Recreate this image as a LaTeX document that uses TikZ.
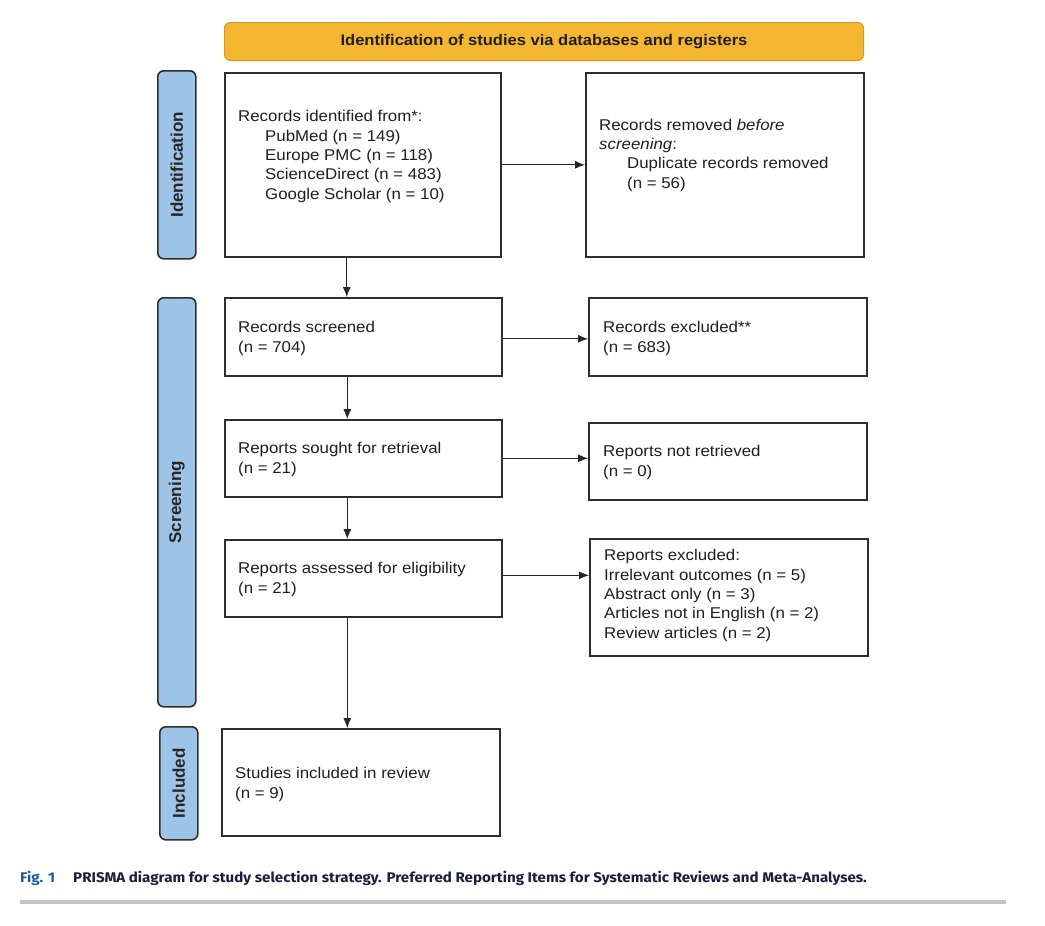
\documentclass[tikz,border=0pt]{standalone}
\usepackage{fontspec}
\setmainfont{Liberation Sans}[FakeStretch=1.08]
\newfontfamily\sidefont{Liberation Sans}
\newfontfamily\capfont{Fira Sans}[FakeStretch=1.08]
\usetikzlibrary{arrows.meta}
\definecolor{hdrfill}{HTML}{F5B631}
\definecolor{hdrdraw}{HTML}{D39A22}
\definecolor{sidefill}{HTML}{9DC3E6}
\definecolor{bd}{HTML}{2E2E2E}
\definecolor{figblue}{HTML}{1F5A9A}
\definecolor{capnavy}{HTML}{1A1F3A}
\definecolor{rulegray}{HTML}{C4C4C8}
\begin{document}
\begin{tikzpicture}[x=1pt,y=-1pt,
  box/.style={draw=bd, line width=1.6pt, fill=white, inner sep=0pt, anchor=north west},
  txt/.style={anchor=base west, align=left, inner sep=0pt, text=black!88,
    font=\fontsize{15.6}{19.3}\selectfont},
  arr/.style={-{Latex[length=10pt,width=8pt]}, line width=0.9pt, draw=black!85},
  sidebar/.style={draw=bd, fill=sidefill, line width=1.6pt, rounded corners=6pt, inner sep=0pt, anchor=north west},
  sidelabel/.style={rotate=90, font=\sidefont\fontsize{17}{19}\selectfont\bfseries, text=black!85, inner sep=0pt},
  captext/.style={anchor=base west, inner sep=0pt, font=\capfont\fontsize{14}{16}\selectfont\bfseries},
]
\useasboundingbox (0,0) rectangle (1045,926);

% header
\node[draw=hdrdraw, fill=hdrfill, line width=1pt, rounded corners=6pt, anchor=north west,
  minimum width=639pt, minimum height=38pt, inner sep=0pt,
  font=\fontsize{15.3}{17}\selectfont\bfseries, text=black!88] (hdr) at (224,22)
  {Identification of studies via databases and registers};

% side bars
\node[sidebar, minimum width=38pt, minimum height=188pt] (sid) at (157,70) {};
\node[sidelabel] (sidl) at (sid.center) {Identification};
\node[sidebar, minimum width=38pt, minimum height=409pt] (sscr) at (157,297) {};
\node[sidelabel] (sscrl) at (sscr.center) {Screening};
\node[sidebar, minimum width=38pt, minimum height=113pt] (sinc) at (159,726) {};
\node[sidelabel] (sincl) at (sinc.center) {Included};

% boxes
\node[box, minimum width=276pt, minimum height=184pt] (b1) at (224,72) {};
\node[box, minimum width=278pt, minimum height=184pt] (b2) at (585,72) {};
\node[box, minimum width=277pt, minimum height=78pt] (b3) at (224,297) {};
\node[box, minimum width=278pt, minimum height=78pt] (b4) at (588,297) {};
\node[box, minimum width=277pt, minimum height=77pt] (b5) at (224,419) {};
\node[box, minimum width=278pt, minimum height=77pt] (b6) at (588,422) {};
\node[box, minimum width=277pt, minimum height=77pt] (b7) at (224,539) {};
\node[box, minimum width=278pt, minimum height=117pt] (b8) at (589,538) {};
\node[box, minimum width=278pt, minimum height=107pt] (b9) at (221,728) {};

% texts (anchored at the baseline of their last line)
\node[txt] (t1) at (238,199) {Records identified from*:\\
  \hspace{27pt}PubMed (n = 149)\\
  \hspace{27pt}Europe PMC (n = 118)\\
  \hspace{27pt}ScienceDirect (n = 483)\\
  \hspace{27pt}Google Scholar (n = 10)};
\node[txt] (t2) at (599,188) {Records removed \emph{before}\\
  \emph{screening}:\\
  \hspace{28pt}Duplicate records removed\\
  \hspace{28pt}(n = 56)};
\node[txt] (t3) at (238,352) {Records screened\\(n = 704)};
\node[txt] (t4) at (603,352) {Records excluded**\\(n = 683)};
\node[txt] (t5) at (238,473) {Reports sought for retrieval\\(n = 21)};
\node[txt] (t6) at (603,476) {Reports not retrieved\\(n = 0)};
\node[txt] (t7) at (238,593) {Reports assessed for eligibility\\(n = 21)};
\node[txt] (t8) at (604,638) {Reports excluded:\\
  Irrelevant outcomes (n = 5)\\
  Abstract only (n = 3)\\
  Articles not in English (n = 2)\\
  Review articles (n = 2)};
\node[txt] (t9) at (235,798) {Studies included in review\\(n = 9)};

% connectors
\draw[arr] (b1.east) -- (b1.east -| b2.west);
\draw[arr] ([xshift=-16pt]b1.south) -- ([xshift=-16pt]b1.south |- b3.north);
\draw[arr] ([yshift=-2pt]b3.east) -- ([yshift=-2pt]b3.east -| b4.west);
\draw[arr] ([xshift=-16pt]b3.south) -- ([xshift=-16pt]b3.south |- b5.north);
\draw[arr] (b5.east) -- (b5.east -| b6.west);
\draw[arr] ([xshift=-16pt]b5.south) -- ([xshift=-16pt]b5.south |- b7.north);
\draw[arr] ([yshift=3pt]b7.east) -- ([yshift=3pt]b7.east -| b8.west);
\draw[arr] ([xshift=-16pt]b7.south) -- ([xshift=-16pt]b7.south |- b9.north);

% caption
\node[captext, text=figblue] (fig) at (20,882) {Fig. 1};
\node[captext, text=capnavy] (cap) at (73,882)
  {PRISMA diagram for study selection strategy. Preferred Reporting Items for Systematic Reviews and Meta-Analyses.};
\draw[rulegray, line width=4pt] (20,902) -- (1006,902);
\end{tikzpicture}
\end{document}
